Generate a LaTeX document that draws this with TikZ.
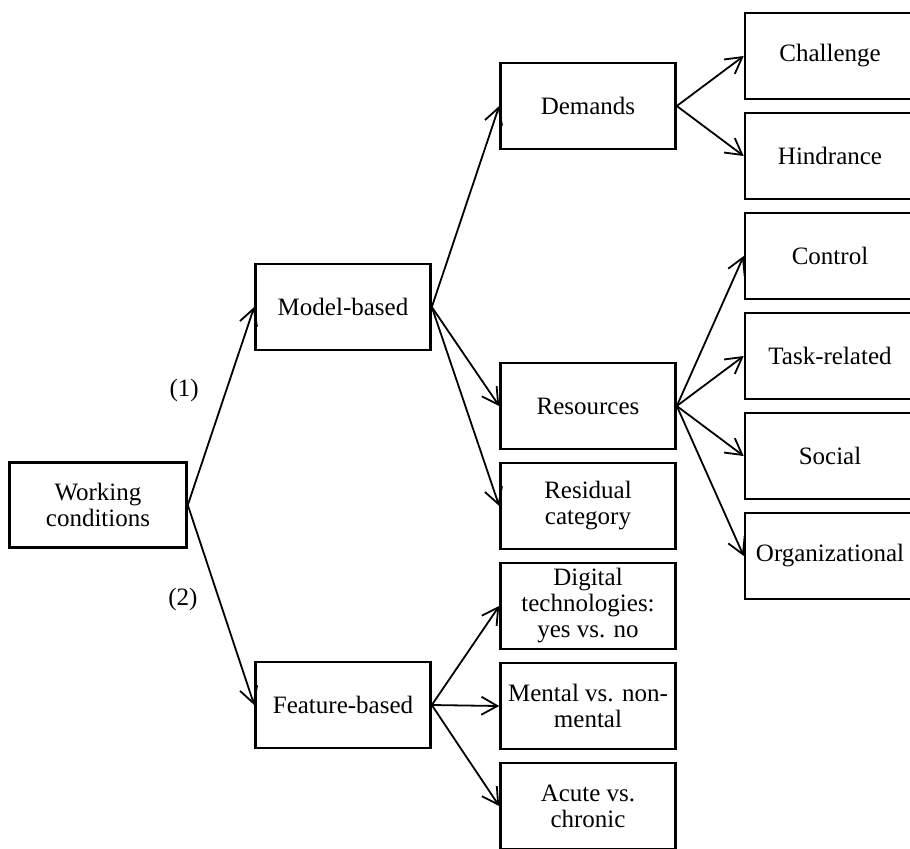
\documentclass[tikz,border=0pt]{standalone}
\usepackage{fontspec}
\setmainfont{Liberation Serif}
\usetikzlibrary{positioning}
\usetikzlibrary{arrows.meta}

\begin{document}
\begin{tikzpicture}[->,>={Straight Barb[length=8pt,width=9pt]},line width=0.9pt,
	node distance=50pt,on grid,
	main box/.style={rectangle,draw,line width=1.3pt,minimum width=87.5pt,
		minimum height=43pt,align=center,inner sep=1pt,
		font=\fontsize{12.5}{13}\selectfont},
	leaf box/.style={main box,minimum width=85pt}]
	
	\useasboundingbox (0,0) rectangle (455pt,-424pt);
	
	\node[main box,minimum width=88.5pt,minimum height=42.5pt] (wc) at (49pt,-252.5pt) {Working\\conditions};
	\node[main box] (model) [above right=99pt and 122.5pt of wc] {Model-based};
	\node[main box] (feature) [below right=100pt and 122.5pt of wc] {Feature-based};
	
	\node[main box] (demands) [above right=100.5pt and 122.5pt of model] {Demands};
	\node[main box] (resources) [below right=49.5pt and 122.5pt of model] {Resources};
	\node[main box] (residual) [below=of resources] {Residual\\category};
	\node[main box] (digital) [below=of residual] {Digital\\technologies:\\yes vs. no};
	\node[main box] (mental) [below=of digital] {Mental vs. non-\\mental};
	\node[main box] (acute) [below=of mental] {Acute vs.\\chronic};
	
	\node[leaf box] (challenge) [above right=25pt and 121pt of demands] {Challenge};
	\node[leaf box] (hindrance) [below=of challenge] {Hindrance};
	\node[leaf box] (control) [below=of hindrance] {Control};
	\node[leaf box] (task) [below=of control] {Task-related};
	\node[leaf box] (social) [below=of task] {Social};
	\node[leaf box] (org) [below=of social] {Organizational};
	
	\path[every node/.style={font=\fontsize{12.5}{13}\selectfont}]
	(wc.east) edge node [left=10pt,pos=0.58] {(1)} (model.west)
	(wc.east) edge node [left=7pt,pos=0.47] {(2)} (feature.west)
	(model.east) edge (demands.west)
	(model.east) edge (resources.west)
	(model.east) edge (residual.west)
	(demands.east) edge (challenge.west)
	(demands.east) edge (hindrance.west)
	(resources.east) edge (control.west)
	(resources.east) edge (task.west)
	(resources.east) edge (social.west)
	(resources.east) edge (org.west)
	(feature.east) edge (digital.west)
	(feature.east) edge (mental.west)
	(feature.east) edge (acute.west);
\end{tikzpicture}
\end{document}
